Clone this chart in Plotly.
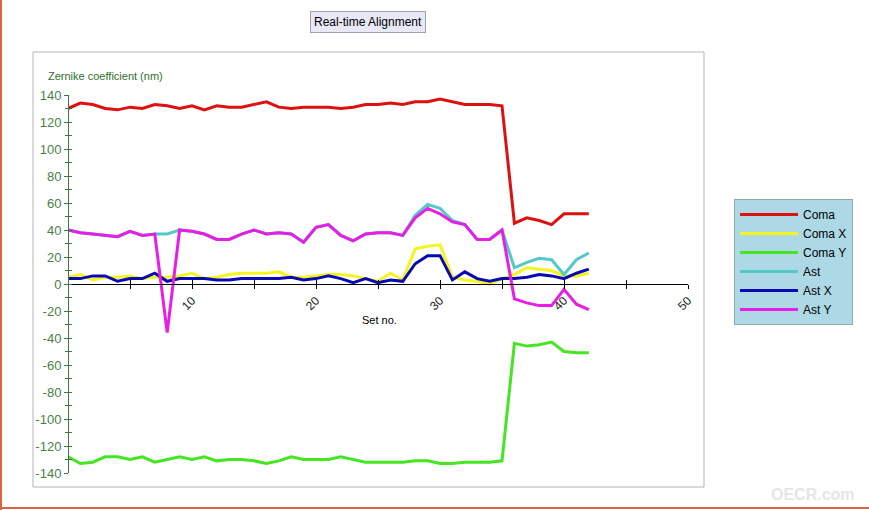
import plotly.graph_objects as go

# ---- data ----
set_no = list(range(0, 43))
coma = [130,134,133,130,129,131,130,133,132,130, 132,129,132,131,131,133,135,131,130,131,
        131,131,130,131,133,133,134,133,135,135, 137,135,133,133,133,132,45,49,47,44,
        52,52,52]
coma_x = [5,7,3,5,5,6,4,5,5,6, 8,4,5,7,8,8,8,9,5,5,
          6,7,7,6,4,2,8,3,26,28, 29,5,3,2,0,4,7,12,11,10,
          6,6,8]
coma_y = [-128,-133,-132,-128,-128,-130,-128,-132,-130,-128, -130,-128,-131,-130,-130,-131,-133,-131,-128,-130,
          -130,-130,-128,-130,-132,-132,-132,-132,-131,-131, -133,-133,-132,-132,-132,-131,-44,-46,-45,-43,
          -50,-51,-51]
ast = [40,38,37,36,35,39,36,37,37,40, 39,37,33,33,37,40,37,38,37,31,
       42,44,36,32,37,38,38,36,51,59, 56,47,44,33,33,40,12,16,19,18,
       7,18,23]
ast_x = [4,4,6,6,2,4,4,8,2,4, 4,4,3,3,4,4,4,4,5,3,
         4,6,4,1,4,1,3,2,15,21, 21,3,9,4,2,4,4,5,7,6,
         4,8,11]
ast_y = [40,38,37,36,35,39,36,37,-36,40, 39,37,33,33,37,40,37,38,37,31,
         42,44,36,32,37,38,38,36,49,56, 52,46,44,33,33,40,-11,-14,-16,-16,
         -4,-15,-19]

series_names = ["Coma", "Coma X", "Coma Y", "Ast", "Ast X", "Ast Y"]
series_values = [coma, coma_x, coma_y, ast, ast_x, ast_y]
series_colors = ["#dd1111", "#f4f41e", "#44e622", "#55c8c8", "#0a0ab4", "#e61ee6"]

x_tickvals = [10, 20, 30, 40, 50]
x_minor = [5, 15, 25, 35, 45]
y_tickvals = list(range(-140, 141, 20))
y_ticktext = [str(v) for v in y_tickvals]   # plain hyphen-minus, as in the reference

FONT = "Liberation Sans, Arial, sans-serif"
GREEN_AX = "#3d7a3d"
GREEN_TXT = "#4a7f4a"

fig = go.Figure()
for name, vals, col in zip(series_names, series_values, series_colors):
    fig.add_trace(go.Scatter(x=set_no, y=vals, name=name, mode="lines",
                             line=dict(color=col, width=3)))
# helper trace for the overlay axes (crossing tick halves)
fig.add_trace(go.Scatter(x=[None], y=[None], xaxis="x2", yaxis="y2",
                         showlegend=False, hoverinfo="skip"))

W, H = 869, 510
L, R, T, B = 68, 869 - 688, 95, 510 - 473
pw, ph = W - L - R, H - T - B

def px(xp):
    return (xp - L) / pw

def py(yp):
    return (H - B - yp) / ph

fig.update_layout(
    width=W, height=H,
    margin=dict(l=L, r=R, t=T, b=B, pad=0),
    paper_bgcolor="white", plot_bgcolor="white",
    font=dict(family=FONT, size=12, color="black"),
    xaxis=dict(range=[0, 50], anchor="free", position=0.5,
               showline=True, linecolor="black", linewidth=1,
               showgrid=False, zeroline=False,
               tickmode="array", tickvals=x_tickvals,
               ticks="outside", ticklen=4, tickcolor="black", tickwidth=1,
               minor=dict(tickmode="array", tickvals=x_minor, ticks="outside",
                          ticklen=4, tickcolor="black", tickwidth=1),
               tickangle=-45, tickfont=dict(size=12, color="#222222", family=FONT)),
    xaxis2=dict(range=[0, 50], overlaying="x", anchor="free", position=0.5,
                showline=False, showgrid=False, zeroline=False,
                tickmode="array", tickvals=x_tickvals + x_minor,
                ticks="inside", ticklen=4, tickcolor="black", tickwidth=1,
                showticklabels=False),
    yaxis=dict(range=[-140, 140], anchor="free", position=0,
               showline=True, linecolor=GREEN_AX, linewidth=1,
               showgrid=False, zeroline=False,
               tickmode="array", tickvals=y_tickvals, ticktext=y_ticktext,
               ticks="outside", ticklen=4, tickcolor=GREEN_AX, tickwidth=1,
               minor=dict(dtick=10, tick0=0, ticks="outside", ticklen=3,
                          tickcolor=GREEN_AX, tickwidth=1),
               tickfont=dict(size=13, color=GREEN_TXT, family=FONT)),
    yaxis2=dict(range=[-140, 140], overlaying="y", anchor="free", position=0,
                showline=False, showgrid=False, zeroline=False,
                tickmode="linear", tick0=0, dtick=10,
                ticks="inside", ticklen=3, tickcolor=GREEN_AX, tickwidth=1,
                showticklabels=False),
    legend=dict(x=px(734), y=py(199), xanchor="left", yanchor="top",
                bgcolor="#add8e6", bordercolor="#9aa6ad", borderwidth=1,
                font=dict(size=12, family=FONT, color="black"),
                itemwidth=58, tracegroupgap=0),
    showlegend=True,
)

shapes = [
    # outer chart frame
    dict(type="rect", xref="paper", yref="paper", x0=px(33), x1=px(704), y0=py(487), y1=py(52),
         line=dict(color="#b4b4b4", width=1), fillcolor="rgba(0,0,0,0)", layer="below"),
    # orange page borders
    dict(type="line", xref="paper", yref="paper", x0=px(1), x1=px(1), y0=py(510), y1=py(0),
         line=dict(color="#d9663a", width=2)),
    dict(type="line", xref="paper", yref="paper", x0=px(0), x1=px(869), y0=py(508), y1=py(508),
         line=dict(color="#d9663a", width=2)),
]
fig.update_layout(shapes=shapes)

annotations = [
    dict(text="Real-time Alignment", xref="paper", yref="paper", x=px(368), y=py(22),
         xanchor="center", yanchor="middle", showarrow=False,
         font=dict(size=12, family=FONT, color="black"),
         bgcolor="#e8e8f6", bordercolor="#a0a0b4", borderwidth=1, borderpad=3),
    dict(text="Zernike coefficient (nm)", xref="paper", yref="paper", x=px(46), y=py(76),
         xanchor="left", yanchor="middle", showarrow=False,
         font=dict(size=11, family=FONT, color="#2f6f2f")),
    dict(text="Set no.", xref="paper", yref="paper", x=px(380), y=py(320),
         xanchor="center", yanchor="middle", showarrow=False,
         font=dict(size=11, family=FONT, color="black")),
    dict(text="<b>OECR.com</b>", xref="paper", yref="paper", x=px(813), y=py(494),
         xanchor="center", yanchor="middle", showarrow=False,
         font=dict(size=16, family=FONT, color="#e6e6e6")),
]
fig.update_layout(annotations=annotations)

fig.write_html("out.html")
